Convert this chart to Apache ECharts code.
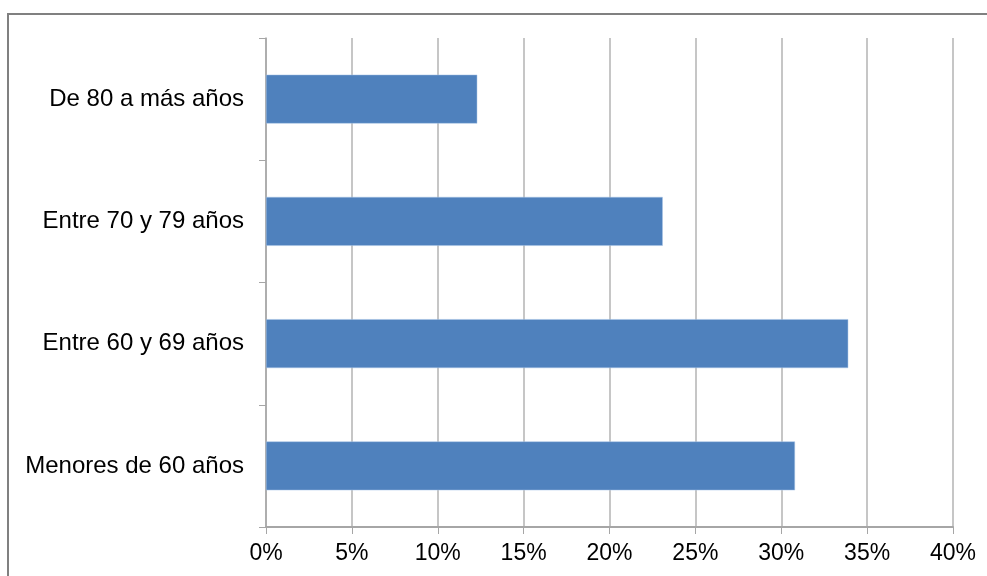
<!DOCTYPE html>
<html>
<head>
<meta charset="utf-8">
<script src="https://cdn.jsdelivr.net/npm/echarts@6/dist/echarts.min.js"></script>
<style>
html,body{margin:0;padding:0;background:#fff;}
#chart{width:987px;height:576px;}
</style>
</head>
<body>
<div id="chart"></div>
<script>
const categories = ['Menores de 60 años', 'Entre 60 y 69 años', 'Entre 70 y 79 años', 'De 80 a más años'];
const values = [30.8, 33.9, 23.1, 12.3];
const xTicks = [0, 5, 10, 15, 20, 25, 30, 35, 40];

const chart = echarts.init(document.getElementById('chart'), null, {renderer: 'canvas'});
chart.setOption({
  animation: false,
  backgroundColor: '#ffffff',
  graphic: [{
    type: 'rect',
    shape: {x: 8, y: 14, width: 1000, height: 600},
    style: {fill: 'none', stroke: '#808080', lineWidth: 2},
    z: -1
  }],
  grid: {left: 266, right: 34, top: 38, bottom: 49, containLabel: false},
  xAxis: {
    type: 'value',
    min: xTicks[0],
    max: xTicks[xTicks.length - 1],
    interval: 5,
    axisLine: {show: true, lineStyle: {color: '#a6a6a6', width: 2}},
    axisTick: {show: true, length: 7, lineStyle: {color: '#a6a6a6', width: 1}},
    splitLine: {show: true, lineStyle: {color: '#b3b3b3', width: 1.5}},
    axisLabel: {
      formatter: v => v + '%',
      color: '#000',
      fontFamily: 'Liberation Sans, Arial, sans-serif',
      fontSize: 23,
      margin: 15
    }
  },
  yAxis: {
    type: 'category',
    data: categories,
    axisLine: {show: true, lineStyle: {color: '#a6a6a6', width: 1.5}},
    axisTick: {show: true, length: 7, alignWithLabel: false, lineStyle: {color: '#a6a6a6', width: 1}},
    splitLine: {show: false},
    axisLabel: {
      color: '#000',
      fontFamily: 'Liberation Sans, Arial, sans-serif',
      fontSize: 24,
      margin: 22
    }
  },
  series: [{
    type: 'bar',
    data: values,
    barWidth: '40%',
    itemStyle: {color: '#4F81BD', borderColor: '#a9c4e6', borderWidth: 0.5}
  }]
});
</script>
</body>
</html>
